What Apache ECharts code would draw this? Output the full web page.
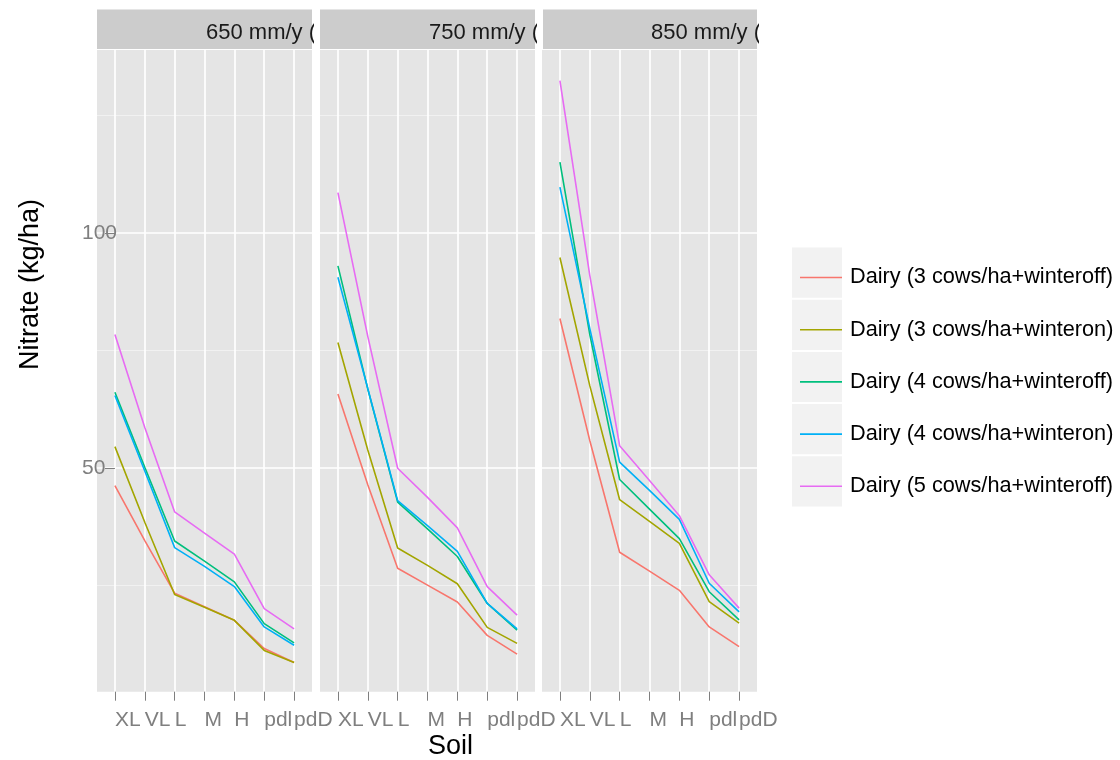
<!DOCTYPE html>
<html>
<head>
<meta charset="utf-8">
<script src="https://cdn.jsdelivr.net/npm/echarts@6/dist/echarts.min.js"></script>
<style>
  html, body { margin: 0; padding: 0; background: #fff; }
  #chart { width: 1120px; height: 760px; }
</style>
</head>
<body>
<div id="chart"></div>
<script>
// Soil classes along the x axis of every panel
const soils = ['XL', 'VL', 'L', 'M', 'H', 'pdl', 'pdD'];
// Panel strip labels (one panel per rainfall level)
const rainfall = ['650 mm/y (', '750 mm/y (', '850 mm/y ('];
// Farm systems (one line per system)
const herds = [
  'Dairy (3 cows/ha+winteroff)',
  'Dairy (3 cows/ha+winteron)',
  'Dairy (4 cows/ha+winteroff)',
  'Dairy (4 cows/ha+winteron)',
  'Dairy (5 cows/ha+winteroff)'
];
const herdColors = ['#F8766D', '#A3A500', '#00BF7D', '#00B0F6', '#E76BF3'];

// Nitrate leaching (kg/ha), rows follow herds, columns follow soils
const nitrate650 = [
  [46.2, 34.5, 23.3, 20.4, 17.5, 11.5, 8.5],
  [54.5, 38.4, 23.0, 20.3, 17.5, 11.1, 8.5],
  [66.1, 50.1, 34.4, 30.1, 25.7, 16.8, 12.7],
  [65.4, 49.3, 33.0, 29.0, 24.7, 16.1, 12.2],
  [78.4, 58.6, 40.6, 36.1, 31.6, 20.0, 15.7]
];
const nitrate750 = [
  [65.7, 46.4, 28.6, 25.0, 21.4, 14.3, 10.3],
  [76.7, 53.8, 32.9, 29.2, 25.3, 16.0, 12.6],
  [93.0, 66.8, 42.7, 37.0, 31.1, 21.1, 15.4],
  [90.6, 66.9, 43.0, 37.7, 32.2, 21.1, 15.7],
  [108.6, 78.0, 49.9, 43.7, 37.2, 24.7, 18.6]
];
const nitrate850 = [
  [81.8, 55.8, 32.0, 28.0, 23.9, 16.1, 11.9],
  [94.8, 67.5, 43.2, 38.6, 33.9, 21.5, 16.9],
  [115.1, 78.4, 47.5, 41.2, 34.9, 23.6, 17.6],
  [109.8, 79.7, 51.2, 45.2, 39.0, 25.4, 19.3],
  [132.5, 91.0, 54.7, 47.3, 39.8, 27.2, 20.1]
];
const panelData = [nitrate650, nitrate750, nitrate850];

// Y axis ticks: labelled major lines and unlabelled minor lines
const yMajorTicks = [50, 100];
const yMinorTicks = [25, 75, 125];

// ---- layout ----
const FONT = 'Liberation Sans, Arial, Helvetica, sans-serif';
const panelLeft = [97, 320, 542];
const panelWidth = 215;
const panelTop = 50;
const panelHeight = 641.7;
const stripTop = 9.5;
const stripHeight = 39.5;
const yMin = 2.3, yMax = 139;
const xPad = 0.6;  // discrete-axis expansion on both sides
const soilIndex = soils.map((s, i) => i);

const grids = [], xAxes = [], yAxes = [], series = [], graphics = [];

panelLeft.forEach((left, p) => {
  grids.push({
    left: left, top: panelTop, width: panelWidth, height: panelHeight,
    show: true, backgroundColor: '#E5E5E5', borderWidth: 0, containLabel: false
  });
  xAxes.push({
    gridIndex: p, type: 'value', min: -xPad, max: soils.length - 1 + xPad, z: 3,
    axisLine: { show: false },
    axisTick: { show: true, customValues: soilIndex, length: 9, lineStyle: { color: '#7F7F7F', width: 1 } },
    axisLabel: {
      show: true, customValues: soilIndex, formatter: v => soils[Math.round(v)],
      align: 'left', margin: 18, color: '#7F7F7F', fontSize: 21, fontFamily: FONT
    },
    splitLine: { show: false }
  });
  yAxes.push({
    gridIndex: p, type: 'value', min: yMin, max: yMax, z: 3,
    axisLine: { show: false },
    axisTick: { show: p === 0, customValues: yMajorTicks, length: 10, lineStyle: { color: '#7F7F7F', width: 1 } },
    axisLabel: {
      show: p === 0, customValues: yMajorTicks, align: 'left', margin: 15,
      color: '#7F7F7F', fontSize: 21, fontFamily: FONT
    },
    splitLine: { show: false }
  });

  // panel grid lines, drawn through the panel's own axes
  const gridLines = [];
  yMinorTicks.forEach(v => gridLines.push({ yAxis: v, lineStyle: { color: '#F2F2F2', width: 0.9, type: 'solid' } }));
  yMajorTicks.forEach(v => gridLines.push({ yAxis: v, lineStyle: { color: '#FFFFFF', width: 1.7, type: 'solid' } }));
  soilIndex.forEach(i => gridLines.push({ xAxis: i, lineStyle: { color: '#FFFFFF', width: 1.7, type: 'solid' } }));
  series.push({
    type: 'line', xAxisIndex: p, yAxisIndex: p, data: [], z: 1, silent: true,
    markLine: {
      z: 1, silent: true, animation: false, symbol: ['none', 'none'],
      label: { show: false }, emphasis: { disabled: true },
      data: gridLines
    }
  });

  panelData[p].forEach((values, g) => {
    series.push({
      type: 'line', name: herds[g], xAxisIndex: p, yAxisIndex: p, z: 10,
      data: values.map((v, i) => [soilIndex[i], v]),
      symbol: 'none', showSymbol: false, color: herdColors[g],
      lineStyle: { width: 1.6, color: herdColors[g] },
      emphasis: { disabled: true }, animation: false
    });
  });

  // facet strip
  graphics.push({
    type: 'rect', z: 0,
    shape: { x: left, y: stripTop, width: panelWidth, height: stripHeight },
    style: { fill: '#CCCCCC' }
  });
  graphics.push({
    type: 'text', z: 1, x: left + panelWidth / 2 + 1.5, y: stripTop + 23,
    style: { text: rainfall[p], font: '22px ' + FONT, fill: '#1A1A1A', textAlign: 'left', textVerticalAlign: 'middle' }
  });
  graphics.push({
    type: 'rect', z: 2,
    shape: { x: left + panelWidth + 2, y: stripTop - 1, width: p === 2 ? 40 : 6, height: stripHeight + 1 },
    style: { fill: '#FFFFFF' }
  });
});

// legend key backgrounds
const keyTop0 = 247.5, keyStep = 52.2;
herds.forEach((h, g) => {
  graphics.push({
    type: 'rect', z: 0,
    shape: { x: 792, y: keyTop0 + g * keyStep, width: 50, height: 50.2 },
    style: { fill: '#F2F2F2' }
  });
});

// axis titles
graphics.push({
  type: 'text', z: 1, x: 428, y: 746.5,
  style: { text: 'Soil', font: '27px ' + FONT, fill: '#000000', textAlign: 'left', textVerticalAlign: 'middle' }
});
graphics.push({
  type: 'text', z: 1, x: 31, y: 370, rotation: Math.PI / 2,
  style: { text: 'Nitrate (kg/ha)', font: '27px ' + FONT, fill: '#000000', textAlign: 'left', textVerticalAlign: 'middle' }
});

const chart = echarts.init(document.getElementById('chart'), null, { renderer: 'canvas' });
chart.setOption({
  animation: false,
  backgroundColor: '#FFFFFF',
  grid: grids,
  xAxis: xAxes,
  yAxis: yAxes,
  legend: {
    data: herds, orient: 'vertical', left: 795, top: 261.5,
    icon: 'rect', itemWidth: 42, itemHeight: 1.6, itemGap: 30.2, selectedMode: false,
    textStyle: { color: '#000000', fontSize: 21.7, fontFamily: FONT, lineHeight: 22, padding: [0, 0, 0, 3] }
  },
  graphic: graphics,
  series: series
});
</script>
</body>
</html>
